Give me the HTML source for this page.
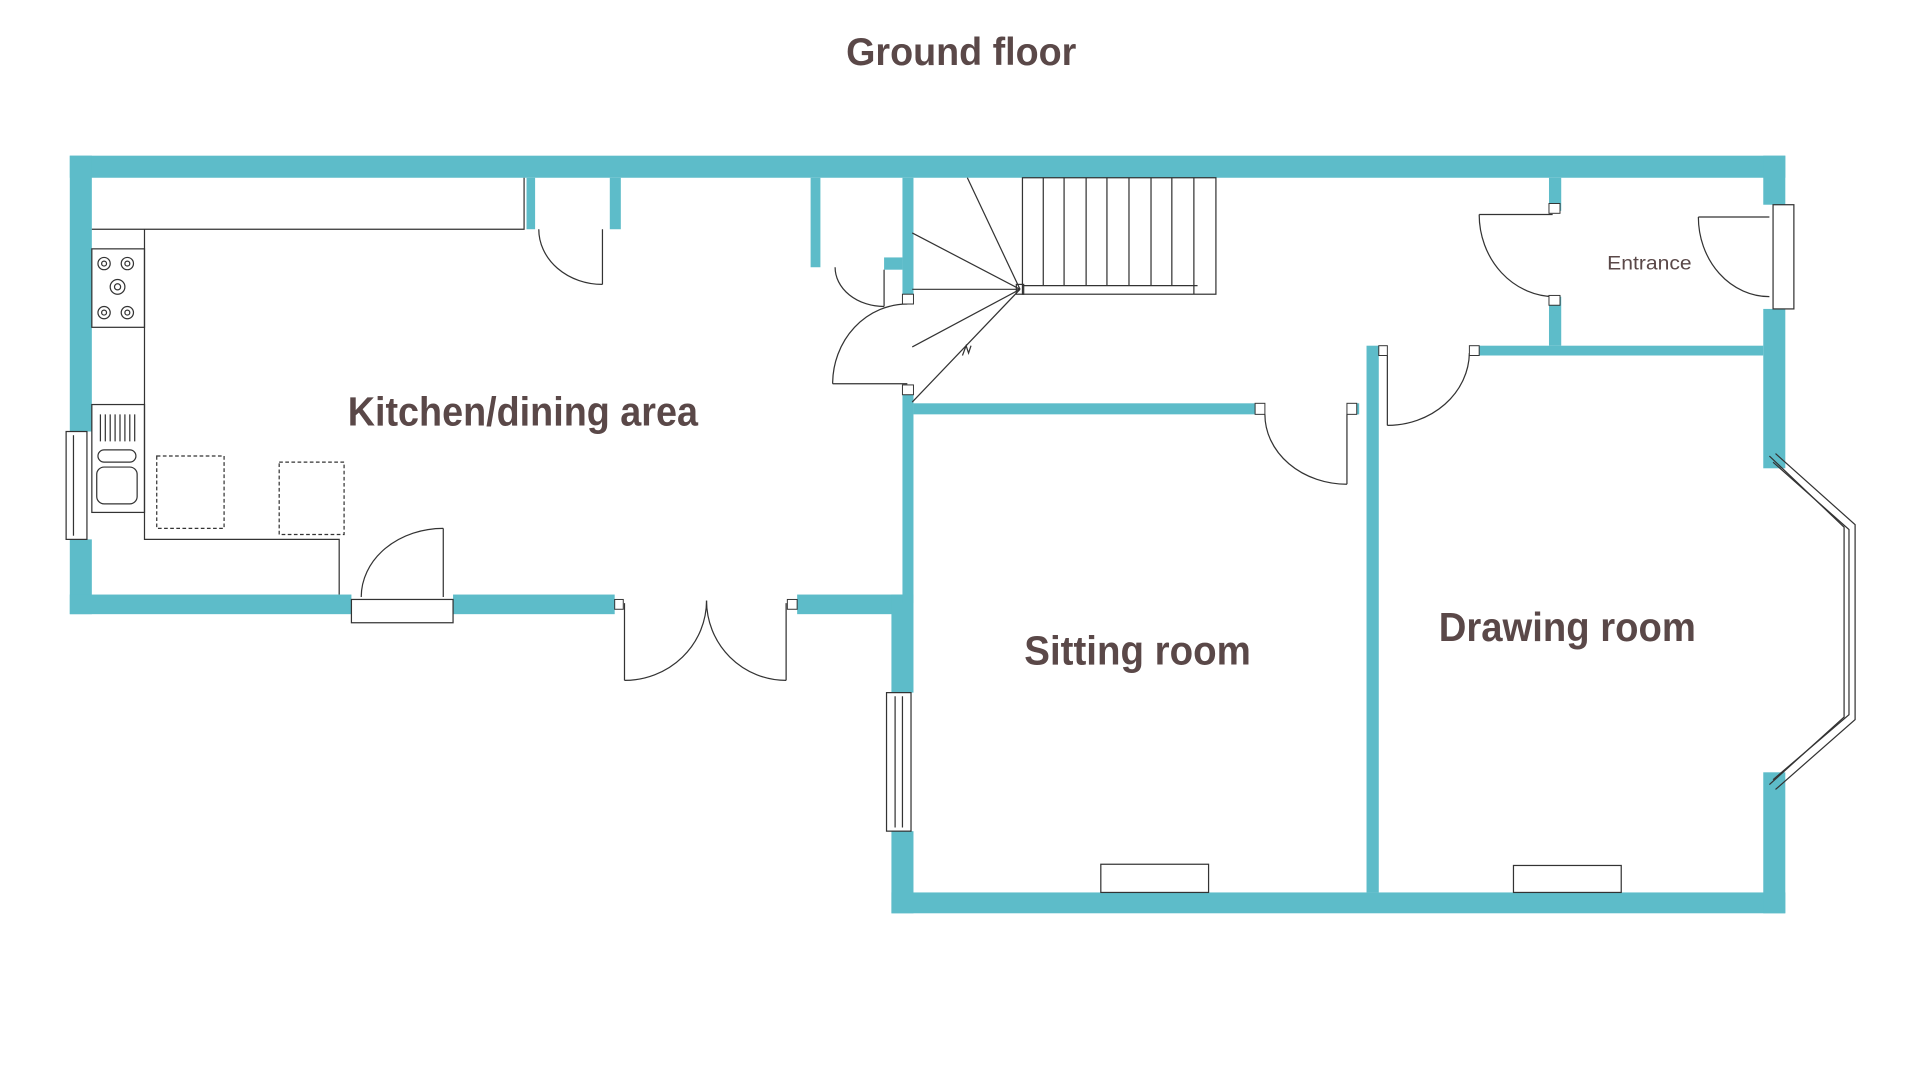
<!DOCTYPE html>
<html><head><meta charset="utf-8"><style>
html,body{margin:0;padding:0;background:#fff;width:1920px;height:1080px;overflow:hidden}
svg{display:block}
text{font-family:"Liberation Sans",sans-serif;fill:#5a4848;font-weight:bold}
</style></head><body>
<svg width="1920" height="1080" viewBox="0 0 1568 881" preserveAspectRatio="none">
<g fill="#5dbcc9">
<rect x="57" y="127" width="1401" height="18"/>
<rect x="57" y="127" width="18" height="225"/>
<rect x="57" y="440" width="18" height="61"/>
<rect x="57" y="485" width="230" height="16"/>
<rect x="370" y="485" width="132" height="16"/>
<rect x="651" y="485" width="86" height="16"/>
<rect x="728" y="485" width="18" height="80"/>
<rect x="728" y="678" width="18" height="67"/>
<rect x="728" y="728" width="730" height="17"/>
<rect x="1440" y="127" width="18" height="40"/>
<rect x="1440" y="252" width="18" height="130"/>
<rect x="1440" y="630" width="18" height="115"/>
<rect x="737" y="145" width="9" height="95"/>
<rect x="737" y="322" width="9" height="170"/>
<rect x="746" y="329" width="284" height="9"/>
<rect x="1100" y="329" width="10" height="9"/>
<rect x="1116" y="282" width="10" height="446"/>
<rect x="1126" y="282" width="7" height="8"/>
<rect x="1205" y="282" width="235" height="8"/>
<rect x="1265" y="145" width="10" height="27"/>
<rect x="1265" y="242" width="10" height="40"/>
<rect x="430" y="145" width="7" height="42"/>
<rect x="498" y="145" width="9" height="42"/>
<rect x="662" y="145" width="8" height="73"/>
<rect x="722" y="210" width="15" height="10"/>
</g>
<g fill="none" stroke="#333" stroke-width="1">
<polyline points="75,187 428,187 428,145"/>
<polyline points="118,187 118,440 277,440 277,485"/>
<rect x="75" y="203" width="43" height="64"/>
<circle cx="85" cy="215" r="5"/><circle cx="85" cy="215" r="2"/>
<circle cx="104" cy="215" r="5"/><circle cx="104" cy="215" r="2"/>
<circle cx="96" cy="234" r="6"/><circle cx="96" cy="234" r="2.5"/>
<circle cx="85" cy="255" r="5"/><circle cx="85" cy="255" r="2"/>
<circle cx="104" cy="255" r="5"/><circle cx="104" cy="255" r="2"/>
<rect x="75" y="330" width="43" height="88"/>
<path d="M82 338v22M86 338v22M90 338v22M94 338v22M98 338v22M102 338v22M106 338v22M110 338v22"/>
<rect x="80" y="367" width="31" height="10" rx="5"/>
<rect x="79" y="381" width="33" height="30" rx="6"/>
<rect x="128" y="372" width="55" height="59" stroke-dasharray="3,2"/>
<rect x="228" y="377" width="53" height="59" stroke-dasharray="3,2"/>
<rect x="54" y="352" width="17" height="88"/><line x1="60" y1="355" x2="60" y2="437"/>
<rect x="724" y="565" width="20" height="113"/><line x1="731" y1="568" x2="731" y2="675"/><line x1="737" y1="568" x2="737" y2="675"/>
<rect x="287" y="489" width="83" height="19"/>
<rect x="1448" y="167" width="17" height="85"/>
<polyline points="1445,372 1506,430 1506,585 1445,640"/>
<polyline points="1450,370 1515,428 1515,587 1450,644"/>
<polyline points="1448,377 1510,432 1510,583 1448,636"/>
<rect x="899" y="705" width="88" height="23"/>
<rect x="1236" y="706" width="88" height="22"/>
<line x1="492" y1="187" x2="492" y2="232"/><path d="M440 187 A52 45 0 0 0 492 232"/>
<line x1="722" y1="220" x2="722" y2="250"/><path d="M682 218 A40 32 0 0 0 722 250"/>
<line x1="680" y1="313" x2="741" y2="313"/><path d="M680 313 A61 65 0 0 1 741 248"/>
<line x1="362" y1="431" x2="362" y2="487"/><path d="M362 431 A67 56 0 0 0 295 487"/>
<line x1="510" y1="492" x2="510" y2="555"/><path d="M510 555 A67 65 0 0 0 577 490"/>
<line x1="642" y1="492" x2="642" y2="555"/><path d="M642 555 A65 65 0 0 1 577 490"/>
<line x1="1100" y1="338" x2="1100" y2="395"/><path d="M1033 338 A67 57 0 0 0 1100 395"/>
<line x1="1133" y1="290" x2="1133" y2="347"/><path d="M1133 347 A67 60 0 0 0 1200 288"/>
<line x1="1208" y1="175" x2="1268" y2="175"/><path d="M1208 175 A62 67 0 0 0 1270 242"/>
<line x1="1387" y1="177" x2="1445" y2="177"/><path d="M1387 177 A58 65 0 0 0 1445 242"/>
<rect x="835" y="145" width="158" height="95"/>
<path d="M852 145v88M869 145v88M887 145v88M904 145v88M922 145v88M940 145v88M957 145v88M975 145v95"/>
<line x1="835" y1="233" x2="978" y2="233"/>
<rect x="830" y="232" width="6" height="8"/>
<line x1="833" y1="236" x2="790" y2="145"/>
<line x1="833" y1="236" x2="745" y2="190"/>
<line x1="833" y1="236" x2="745" y2="236"/>
<line x1="833" y1="236" x2="745" y2="283"/>
<line x1="833" y1="236" x2="745" y2="328"/>
<path d="M786 290 l3 -8 l2 6 l2 -6"/>
</g>
<g fill="#fff" stroke="#333" stroke-width="0.8">
<rect x="737" y="240" width="9" height="8"/><rect x="737" y="314" width="9" height="8"/>
<rect x="1025" y="329" width="8" height="9"/><rect x="1100" y="329" width="8" height="9"/>
<rect x="1126" y="282" width="7" height="8"/><rect x="1200" y="282" width="8" height="8"/>
<rect x="1265" y="166" width="9" height="8"/><rect x="1265" y="241" width="9" height="8"/>
<rect x="502" y="489" width="7" height="8"/><rect x="643" y="489" width="8" height="8"/>
</g>
<text x="785" y="53" font-size="32" text-anchor="middle" textLength="188" lengthAdjust="spacingAndGlyphs">Ground floor</text>
<text x="427" y="347" font-size="33" text-anchor="middle" textLength="286" lengthAdjust="spacingAndGlyphs">Kitchen/dining area</text>
<text x="929" y="542" font-size="33" text-anchor="middle" textLength="185" lengthAdjust="spacingAndGlyphs">Sitting room</text>
<text x="1280" y="523" font-size="33" text-anchor="middle" textLength="210" lengthAdjust="spacingAndGlyphs">Drawing room</text>
<text x="1347" y="220" font-size="16" text-anchor="middle" textLength="69" lengthAdjust="spacingAndGlyphs" style="font-weight:normal">Entrance</text>
</svg>
</body></html>
